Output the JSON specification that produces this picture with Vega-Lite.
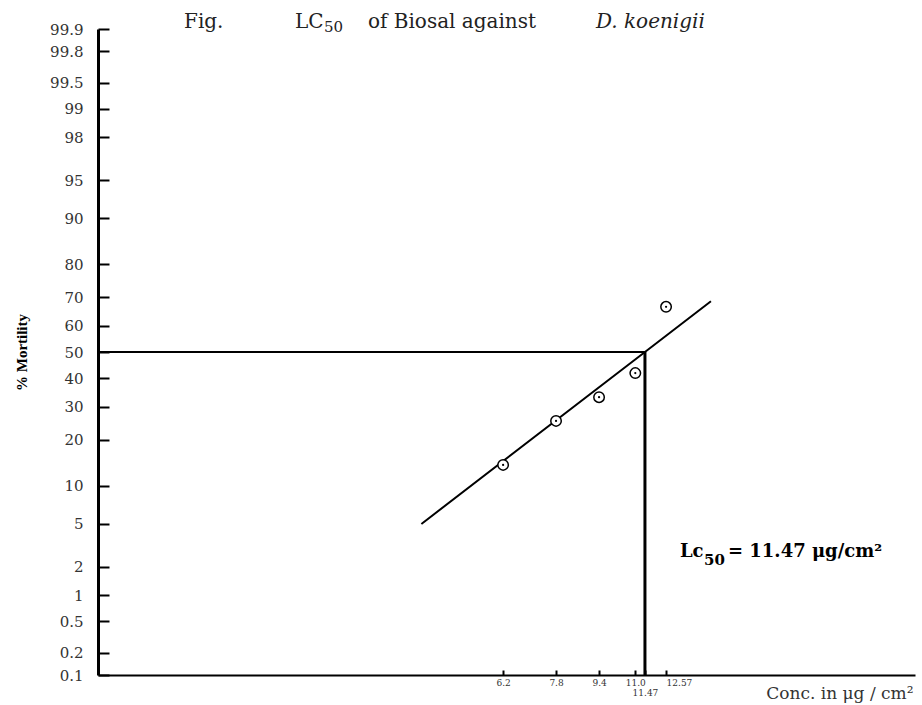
{
  "$schema": "https://vega.github.io/schema/vega-lite/v6.json",
  "width": 817,
  "height": 646,
  "autosize": {"type": "none"},
  "padding": {"left": 98, "top": 29, "right": 7, "bottom": 30},
  "background": "white",
  "config": {"view": {"stroke": null}},
  "datasets": {
    "points": [
      {"conc": 6.2, "mortality": 14.0, "probit": 3.920},
      {"conc": 7.8, "mortality": 25.5, "probit": 4.341},
      {"conc": 9.4, "mortality": 33.3, "probit": 4.568},
      {"conc": 11.0, "mortality": 42.0, "probit": 4.798},
      {"conc": 12.57, "mortality": 66.7, "probit": 5.432}
    ],
    "fit": [
      {"conc": 4.35, "probit": 3.355},
      {"conc": 11.47, "probit": 5.0},
      {"conc": 15.27, "probit": 5.485}
    ],
    "h50": [{"conc": 1.07, "conc2": 11.47, "probit": 5.0}],
    "v50": [{"conc": 11.47, "probit": 1.9098, "probit2": 5.0}],
    "titleMain": [
      {"label": "Fig.", "conc": 1.5537, "probit": 8.157},
      {"label": "LC", "conc": 2.5142, "probit": 8.157},
      {"label": "of Biosal against", "conc": 3.45, "probit": 8.157}
    ],
    "titleSub": [{"label": "50", "conc": 2.8512, "probit": 8.109}],
    "titleItalic": [{"label": "D. koenigii", "conc": 9.2736, "probit": 8.157}],
    "annotMain": [
      {"label": "Lc", "conc": 13.35, "probit": 3.086},
      {"label": "= 11.47 μg/cm²", "conc": 16.441, "probit": 3.086}
    ],
    "annotSub": [{"label": "50", "conc": 14.815, "probit": 3.01}]
  },
  "encoding": {
    "x": {
      "field": "conc",
      "type": "quantitative",
      "scale": {"type": "log", "domain": [1.07, 37], "nice": false},
      "axis": {
        "values": [6.2, 7.8, 9.4, 11, 11.47, 12.57],
        "labelExpr": "datum.value == 11 ? '11.0' : '' + datum.value",
        "labelFont": "DejaVu Serif",
        "labelFontSize": 9,
        "labelColor": "#333",
        "labelPadding": {"condition": {"test": "datum.value == 11.47", "value": 18}, "value": 8},
        "labelAlign": {"condition": {"test": "datum.value == 12.57", "value": "left"}, "value": "center"},
        "labelOverlap": false,
        "labelFlush": false,
        "tickSize": -5,
        "tickWidth": 2,
        "tickColor": "black",
        "domainColor": "black",
        "domainWidth": 2,
        "grid": false,
        "title": "Conc. in μg / cm²",
        "titleAnchor": "end",
        "titleAlign": "right",
        "titleX": 815,
        "titleY": 18,
        "titleBaseline": "middle",
        "titleFont": "DejaVu Serif",
        "titleFontSize": 17,
        "titleFontWeight": "normal",
        "titleColor": "#333"
      }
    },
    "y": {
      "field": "probit",
      "type": "quantitative",
      "scale": {"domain": [1.9098, 8.0902], "nice": false, "zero": false},
      "axis": {
        "values": [8.0902, 7.8782, 7.5758, 7.3263, 7.0537, 6.6449, 6.2816, 5.8416, 5.5244, 5.2533, 5, 4.7467, 4.4756, 4.1584, 3.7184, 3.3551, 2.9463, 2.6737, 2.4242, 2.1218, 1.9098],
        "labelExpr": "'' + round(cumulativeNormal(datum.value - 5) * 1000) / 10",
        "labelFont": "DejaVu Serif",
        "labelFontSize": 15,
        "labelColor": "#333",
        "labelAlign": "right",
        "labelBaseline": "middle",
        "labelPadding": 26,
        "labelOverlap": false,
        "labelFlush": false,
        "tickSize": -11,
        "tickWidth": 2,
        "tickColor": "black",
        "domainColor": "black",
        "domainWidth": 3,
        "grid": false,
        "title": "% Mortility",
        "titleFont": "Liberation Serif",
        "titleFontWeight": "bold",
        "titleFontSize": 15,
        "titleColor": "black",
        "titlePadding": 20
      }
    }
  },
  "layer": [
    {"data": {"name": "h50"}, "mark": {"type": "rule", "color": "black", "strokeWidth": 2}, "encoding": {"x2": {"field": "conc2"}}},
    {"data": {"name": "v50"}, "mark": {"type": "rule", "color": "black", "strokeWidth": 3}, "encoding": {"y2": {"field": "probit2"}}},
    {"data": {"name": "fit"}, "mark": {"type": "line", "color": "black", "strokeWidth": 2}, "encoding": {}},
    {"data": {"name": "points"}, "mark": {"type": "point", "shape": "circle", "size": 110, "filled": true, "fill": "white", "stroke": "black", "strokeWidth": 1.5, "opacity": 1}, "encoding": {}},
    {"data": {"name": "points"}, "mark": {"type": "point", "shape": "circle", "size": 5, "filled": true, "color": "black", "opacity": 1}, "encoding": {}},
    {"data": {"name": "titleMain"}, "mark": {"type": "text", "align": "left", "baseline": "middle", "font": "DejaVu Serif", "fontSize": 20, "color": "#222"}, "encoding": {"text": {"field": "label"}}},
    {"data": {"name": "titleSub"}, "mark": {"type": "text", "align": "left", "baseline": "middle", "font": "DejaVu Serif", "fontSize": 15, "color": "#222"}, "encoding": {"text": {"field": "label"}}},
    {"data": {"name": "titleItalic"}, "mark": {"type": "text", "align": "left", "baseline": "middle", "font": "DejaVu Serif", "fontStyle": "italic", "fontSize": 20, "color": "#222"}, "encoding": {"text": {"field": "label"}}},
    {"data": {"name": "annotMain"}, "mark": {"type": "text", "align": "left", "baseline": "middle", "font": "DejaVu Serif", "fontWeight": "bold", "fontSize": 18, "color": "black"}, "encoding": {"text": {"field": "label"}}},
    {"data": {"name": "annotSub"}, "mark": {"type": "text", "align": "left", "baseline": "middle", "font": "DejaVu Serif", "fontWeight": "bold", "fontSize": 15, "color": "black"}, "encoding": {"text": {"field": "label"}}}
  ]
}
